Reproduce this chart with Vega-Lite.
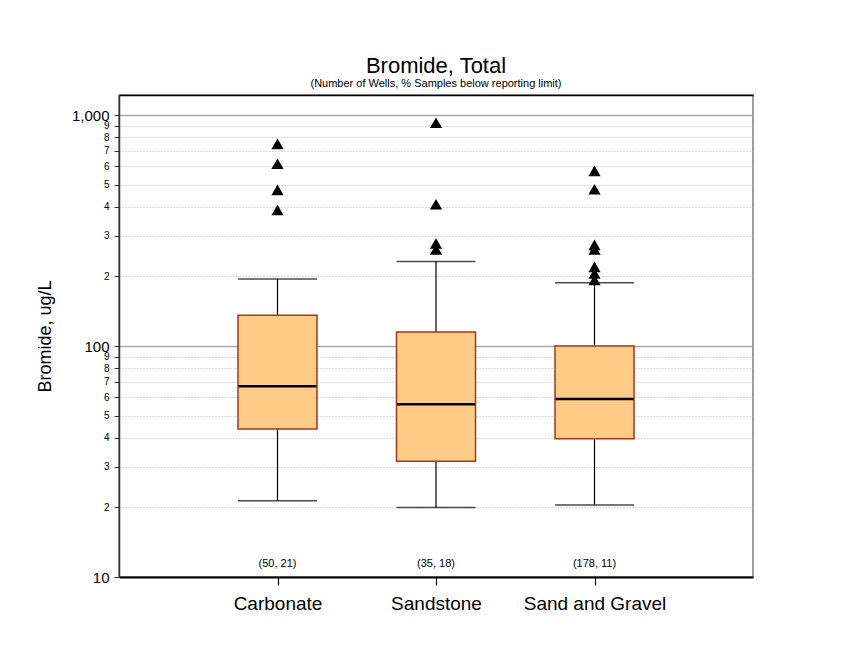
{
  "$schema": "https://vega.github.io/schema/vega-lite/v6.json",
  "width": 634,
  "height": 482,
  "autosize": {"type": "none"},
  "padding": {"left": 119, "top": 95, "right": 103, "bottom": 88},
  "background": "white",
  "config": {
    "font": "Liberation Sans",
    "view": {"stroke": "#808080", "strokeWidth": 1.5}
  },
  "title": {
    "text": "Bromide, Total",
    "subtitle": "(Number of Wells, % Samples below reporting limit)",
    "fontSize": 22,
    "fontWeight": "normal",
    "color": "black",
    "subtitleFontSize": 11,
    "subtitleColor": "black",
    "subtitlePadding": 0,
    "anchor": "middle",
    "frame": "group",
    "offset": 5
  },
  "datasets": {
    "boxes": [
      {"group": "Carbonate", "lower": 21.4, "q1": 43.7, "median": 67, "q3": 136, "upper": 195, "label": "(50, 21)"},
      {"group": "Sandstone", "lower": 20, "q1": 31.7, "median": 56, "q3": 115, "upper": 232, "label": "(35, 18)"},
      {"group": "Sand and Gravel", "lower": 20.5, "q1": 39.7, "median": 59, "q3": 100, "upper": 188, "label": "(178, 11)"}
    ],
    "outliers": [
      {"group": "Carbonate", "value": 750},
      {"group": "Carbonate", "value": 615},
      {"group": "Carbonate", "value": 474},
      {"group": "Carbonate", "value": 388},
      {"group": "Sandstone", "value": 926},
      {"group": "Sandstone", "value": 411},
      {"group": "Sandstone", "value": 278},
      {"group": "Sandstone", "value": 262},
      {"group": "Sand and Gravel", "value": 573},
      {"group": "Sand and Gravel", "value": 477},
      {"group": "Sand and Gravel", "value": 274},
      {"group": "Sand and Gravel", "value": 262},
      {"group": "Sand and Gravel", "value": 220},
      {"group": "Sand and Gravel", "value": 206},
      {"group": "Sand and Gravel", "value": 193}
    ]
  },
  "resolve": {"axis": {"x": "independent"}},
  "layer": [
    {
      "data": {"name": "boxes"},
      "mark": {"type": "rule", "color": "black", "strokeWidth": 1.2},
      "encoding": {
        "x": {
          "field": "group", "type": "nominal", "sort": null,
          "scale": {"type": "point", "padding": 1},
          "axis": {
            "orient": "bottom", "title": null, "labelAngle": 0,
            "labelFontSize": 19, "labelColor": "black", "labelPadding": 9,
            "domainColor": "black", "domainWidth": 2,
            "tickColor": "black", "tickSize": 8, "tickWidth": 1.2,
            "grid": false
          }
        },
        "y": {
          "field": "lower", "type": "quantitative",
          "scale": {"type": "log", "domain": [10, 1221], "nice": false},
          "axis": {
            "title": "Bromide, ug/L",
            "titleFontSize": 18, "titleFontWeight": "normal", "titleColor": "black",
            "titlePadding": 17,
            "values": [10, 20, 30, 40, 50, 60, 70, 80, 90, 100, 200, 300, 400, 500, 600, 700, 800, 900, 1000],
            "labelExpr": "datum.value == 10 ? '10\u2002' : datum.value == 100 ? '100\u2002' : datum.value == 1000 ? '1,000\u2002' : datum.value < 100 ? format(datum.value / 10, 'd') : format(datum.value / 100, 'd')",
            "labelFontSize": {"condition": {"test": "datum.value == 10 || datum.value == 100 || datum.value == 1000", "value": 15}, "value": 10},
            "labelColor": "black",
            "labelPadding": 5,
            "labelOverlap": false,
            "labelFlush": false,
            "domainColor": "#333333", "domainWidth": 1.5,
            "tickColor": "#333333", "tickSize": 5, "tickWidth": 1,
            "grid": true,
            "gridColor": {"condition": {"test": "datum.value == 100 || datum.value == 1000", "value": "#a8a8a8"}, "value": "#b4b4b4"},
            "gridDash": {"condition": {"test": "datum.value == 100 || datum.value == 1000", "value": []}, "value": [1, 2]},
            "gridWidth": {"condition": {"test": "datum.value == 100 || datum.value == 1000", "value": 1.5}, "value": 1}
          }
        },
        "y2": {"field": "upper"}
      }
    },
    {
      "data": {"name": "boxes"},
      "mark": {"type": "tick", "color": "black", "size": 79, "thickness": 1.5, "orient": "horizontal"},
      "encoding": {
        "x": {"field": "group", "type": "nominal", "sort": null, "axis": null},
        "y": {"field": "upper", "type": "quantitative"}
      }
    },
    {
      "data": {"name": "boxes"},
      "mark": {"type": "tick", "color": "black", "size": 79, "thickness": 1.5, "orient": "horizontal"},
      "encoding": {
        "x": {"field": "group", "type": "nominal", "sort": null, "axis": null},
        "y": {"field": "lower", "type": "quantitative"}
      }
    },
    {
      "data": {"name": "boxes"},
      "mark": {"type": "bar", "width": 79, "fill": "#FFCC88", "stroke": "#9c3a1c", "strokeWidth": 1.5},
      "encoding": {
        "x": {"field": "group", "type": "nominal", "sort": null, "axis": null},
        "y": {"field": "q1", "type": "quantitative"},
        "y2": {"field": "q3"}
      }
    },
    {
      "data": {"name": "boxes"},
      "mark": {"type": "tick", "color": "black", "size": 78, "thickness": 2.5, "orient": "horizontal", "opacity": 1},
      "encoding": {
        "x": {"field": "group", "type": "nominal", "sort": null, "axis": null},
        "y": {"field": "median", "type": "quantitative"}
      }
    },
    {
      "data": {"name": "outliers"},
      "mark": {"type": "point", "shape": "triangle-up", "filled": true, "color": "black", "size": 150, "opacity": 1},
      "encoding": {
        "x": {"field": "group", "type": "nominal", "sort": null, "axis": null},
        "y": {"field": "value", "type": "quantitative"}
      }
    },
    {
      "data": {"name": "boxes"},
      "mark": {"type": "text", "fontSize": 11, "color": "black", "baseline": "middle", "align": "center"},
      "encoding": {
        "x": {
          "field": "group", "type": "nominal", "sort": null,
          "axis": {"orient": "top", "title": null, "labels": false, "ticks": false, "grid": false, "domainColor": "black", "domainWidth": 1.5}
        },
        "y": {"datum": 11.4, "type": "quantitative"},
        "text": {"field": "label"}
      }
    }
  ]
}
